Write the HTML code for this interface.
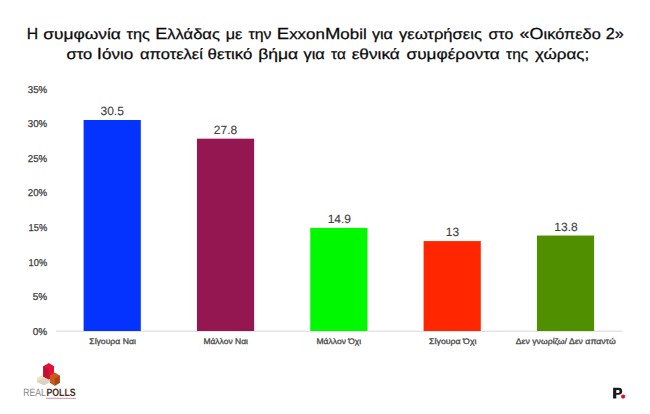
<!DOCTYPE html>
<html><head><meta charset="utf-8">
<style>
*{margin:0;padding:0}
html,body{width:650px;height:414px;background:#fff;overflow:hidden}
.C{font-size:16px}
svg{display:block;font-family:"Liberation Sans",sans-serif;text-rendering:geometricPrecision}
</style></head><body>
<svg width="650" height="414" viewBox="0 0 650 414">
<rect width="650" height="414" fill="#fff"/>
<!-- title -->
<g fill="#0a0a0a" stroke="#0a0a0a" stroke-width="0.25" font-size="14.6">
<text x="26.74" y="39.2" textLength="11.42" lengthAdjust="spacingAndGlyphs"><tspan class="C">Η</tspan></text>
<text x="43.16" y="39.2" textLength="77.70" lengthAdjust="spacingAndGlyphs">συμφωνία</text>
<text x="126.58" y="39.2" textLength="23.32" lengthAdjust="spacingAndGlyphs">της</text>
<text x="155.24" y="39.2" textLength="64.66" lengthAdjust="spacingAndGlyphs"><tspan class="C">Ε</tspan>λλάδας</text>
<text x="225.78" y="39.2" textLength="16.58" lengthAdjust="spacingAndGlyphs">με</text>
<text x="248.42" y="39.2" textLength="22.98" lengthAdjust="spacingAndGlyphs">την</text>
<text x="276.82" y="39.2" textLength="89.84" lengthAdjust="spacingAndGlyphs"><tspan class="C">E</tspan>xxon<tspan class="C">M</tspan>obil</text>
<text x="371.92" y="39.2" textLength="20.94" lengthAdjust="spacingAndGlyphs">για</text>
<text x="398.96" y="39.2" textLength="82.94" lengthAdjust="spacingAndGlyphs">γεωτρήσεις</text>
<text x="488.50" y="39.2" textLength="24.78" lengthAdjust="spacingAndGlyphs">στο</text>
<text x="519.58" y="39.2" textLength="81.28" lengthAdjust="spacingAndGlyphs"><tspan class="C">«</tspan><tspan class="C">Ο</tspan>ικόπεδο</text>
<text x="605.70" y="39.2" textLength="18.00" lengthAdjust="spacingAndGlyphs"><tspan class="C">2</tspan><tspan class="C">»</tspan></text>
<text x="66.50" y="59.3" textLength="25.70" lengthAdjust="spacingAndGlyphs">στο</text>
<text x="96.82" y="59.3" textLength="36.50" lengthAdjust="spacingAndGlyphs"><tspan class="C">Ι</tspan>όνιο</text>
<text x="140.00" y="59.3" textLength="62.90" lengthAdjust="spacingAndGlyphs">αποτελεί</text>
<text x="207.62" y="59.3" textLength="44.74" lengthAdjust="spacingAndGlyphs">θετικό</text>
<text x="258.16" y="59.3" textLength="40.08" lengthAdjust="spacingAndGlyphs">βήμα</text>
<text x="303.50" y="59.3" textLength="21.32" lengthAdjust="spacingAndGlyphs">για</text>
<text x="331.04" y="59.3" textLength="14.74" lengthAdjust="spacingAndGlyphs">τα</text>
<text x="351.66" y="59.3" textLength="48.16" lengthAdjust="spacingAndGlyphs">εθνικά</text>
<text x="406.58" y="59.3" textLength="93.24" lengthAdjust="spacingAndGlyphs">συμφέροντα</text>
<text x="506.04" y="59.3" textLength="22.20" lengthAdjust="spacingAndGlyphs">της</text>
<text x="535.00" y="59.3" textLength="54.16" lengthAdjust="spacingAndGlyphs">χώρας;</text>
</g>
<!-- y labels -->
<g fill="#3a3a3a" stroke="#3a3a3a" stroke-width="0.25" font-size="10" text-anchor="end">
<text x="47.2" y="92.70" textLength="19.4" lengthAdjust="spacingAndGlyphs">35%</text>
<text x="47.2" y="127.29" textLength="19.4" lengthAdjust="spacingAndGlyphs">30%</text>
<text x="47.2" y="161.88" textLength="19.4" lengthAdjust="spacingAndGlyphs">25%</text>
<text x="47.2" y="196.47" textLength="19.4" lengthAdjust="spacingAndGlyphs">20%</text>
<text x="47.2" y="231.06" textLength="18.6" lengthAdjust="spacingAndGlyphs">15%</text>
<text x="47.2" y="265.65" textLength="18.6" lengthAdjust="spacingAndGlyphs">10%</text>
<text x="47.2" y="300.24">5%</text>
<text x="47.2" y="334.83">0%</text>
</g>
<!-- axis -->
<rect x="56" y="330.6" width="566.5" height="1.3" fill="#e0e0e0"/>
<!-- bars -->
<rect x="83.60" y="120.00" width="57.2" height="211.00" fill="#0433FF"/>
<rect x="196.93" y="138.68" width="57.2" height="192.32" fill="#941751"/>
<rect x="310.26" y="227.92" width="57.2" height="103.08" fill="#00F900"/>
<rect x="423.59" y="241.07" width="57.2" height="89.93" fill="#FF2600"/>
<rect x="536.92" y="235.53" width="57.2" height="95.47" fill="#4F8F00"/>
<!-- values -->
<g fill="#404040" stroke="#404040" stroke-width="0.1" font-size="12" text-anchor="middle">
<text x="112.20" y="115.40">30.5</text>
<text x="225.53" y="134.08">27.8</text>
<text x="339.36" y="223.32">14.9</text>
<text x="452.49" y="236.47">13</text>
<text x="566.02" y="230.53">13.8</text>
</g>
<!-- x labels -->
<g fill="#4a4a4a" stroke="#4a4a4a" stroke-width="0.3" font-size="8" text-anchor="middle">
<text x="112.55" y="343.7" textLength="46.5" lengthAdjust="spacingAndGlyphs">Σίγουρα Ναι</text>
<text x="225.7" y="343.7" textLength="44.6" lengthAdjust="spacingAndGlyphs">Μάλλον Ναι</text>
<text x="338.85" y="343.7" textLength="44.7" lengthAdjust="spacingAndGlyphs">Μάλλον Όχι</text>
<text x="452.8" y="343.7" textLength="47.4" lengthAdjust="spacingAndGlyphs">Σίγουρα Όχι</text>
<text x="565.75" y="343.7" textLength="99.9" lengthAdjust="spacingAndGlyphs">Δεν γνωρίζω/ Δεν απαντώ</text>
</g>
<!-- RealPolls logo -->
<g>
<!-- beige cube -->
<polygon points="43.8,374.8 50.6,377.6 50.6,382 43.8,385.2 37,382 37,377.6" fill="#f4e0c4"/>
<polygon points="37,381 43.8,378.6 50.6,380 50.6,382 43.8,385.2 37,382" fill="#dcd3c2"/>
<!-- red cube -->
<polygon points="48.9,363 54,366.3 54,376 48.9,379.5 43.2,376.5 43.2,366.3" fill="#de1438"/>
<polygon points="43.2,366.3 48.9,369.6 48.9,379.5 43.2,376.5" fill="#c41030"/>
<!-- orange cube -->
<polygon points="54.8,372.6 59.8,375.6 59.8,382.7 54.8,385.7 50,383 50,375.6" fill="#c95a1e"/>
<polygon points="54.8,378.6 59.8,375.6 59.8,382.7 54.8,385.7" fill="#a94712"/>
<text x="23.2" y="396" font-size="10.7" fill="#8c8884" textLength="22.6" lengthAdjust="spacingAndGlyphs">REAL</text>
<text x="46.4" y="396" font-size="10.7" font-weight="bold" fill="#4a2f26" textLength="29.2" lengthAdjust="spacingAndGlyphs">POLLS</text>
<rect x="46.1" y="397.8" width="29.8" height="1" fill="#c03040" opacity="0.55"/>
</g>
<!-- P. logo -->
<path d="M613.1,387.8 H618.6 A3.6,3.45 0 0 1 618.6,394.7 H616.3 V398.6 H613.1 Z M616.3,390.1 V392.9 H618.3 A1.3,1.4 0 0 0 618.3,390.1 Z" fill="#1a1a1a" fill-rule="evenodd"/>
<circle cx="623.1" cy="396.6" r="2.1" fill="#e3141f"/>
</svg>
</body></html>
